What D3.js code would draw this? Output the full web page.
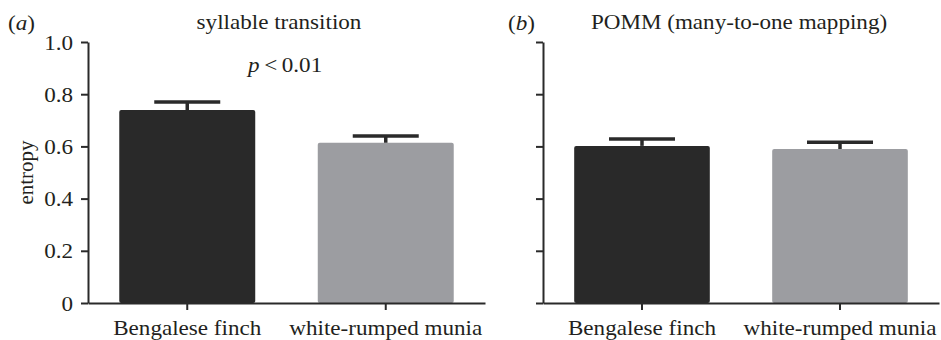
<!DOCTYPE html>
<html>
<head>
<meta charset="utf-8">
<script src="https://cdn.jsdelivr.net/npm/d3@7"></script>
<style>
  body { margin: 0; background: #fff; }
  svg text { font-family: "Liberation Serif", "Times New Roman", serif; fill: #231f20; }
</style>
</head>
<body>
<div id="chart"></div>
<script>
// dados
const categorias = ["Bengalese finch", "white-rumped munia"];
const titulos = ["syllable transition", "POMM (many-to-one mapping)"];
const letras = ["a", "b"];
const transicaoMedia = [0.739, 0.614];
const transicaoErro = [0.031, 0.026];
const pommMedia = [0.602, 0.590];
const pommErro = [0.026, 0.026];
const yTicks = [0, 0.2, 0.4, 0.6, 0.8, 1.0];
const rotuloY = "entropy";
const pValor = "0.01";

const W = 941, H = 340;
const fonte = 21, esticar = 1.1; // a figura original está um pouco esticada na horizontal
const corBarras = ["#292929", "#9c9da1"];
const corEixo = "#2a2a2a";

const svg = d3.select("#chart").append("svg")
  .attr("width", W).attr("height", H);

const y = d3.scaleLinear().domain([0, 1]).range([303, 42]);

const paineis = [
  { x0: 88, x1: 485, media: transicaoMedia, erro: transicaoErro, titulo: titulos[0], letra: letras[0], letraX: 8, tituloX: 279, labels: true },
  { x0: 543, x1: 939, media: pommMedia, erro: pommErro, titulo: titulos[1], letra: letras[1], letraX: 508, tituloX: 739, labels: false }
];

paineis.forEach((p, i) => {
  const g = svg.append("g");
  const x = d3.scaleBand().domain(categorias).range([p.x0, p.x1])
    .paddingInner(0.315).paddingOuter(0.1575);

  // barras
  g.selectAll(".bar").data(categorias).enter().append("rect")
    .attr("x", d => x(d))
    .attr("y", (d, j) => y(p.media[j]))
    .attr("width", x.bandwidth())
    .attr("height", (d, j) => y(0) - y(p.media[j]))
    .attr("rx", 2)
    .attr("fill", (d, j) => corBarras[j]);

  // barras de erro (só para cima)
  const capW = 66;
  categorias.forEach((c, j) => {
    const cx = x(c) + x.bandwidth() / 2;
    g.append("line")
      .attr("x1", cx).attr("x2", cx)
      .attr("y1", y(p.media[j])).attr("y2", y(p.media[j] + p.erro[j]))
      .attr("stroke", corEixo).attr("stroke-width", 3.5);
    g.append("line")
      .attr("x1", cx - capW / 2).attr("x2", cx + capW / 2)
      .attr("y1", y(p.media[j] + p.erro[j])).attr("y2", y(p.media[j] + p.erro[j]))
      .attr("stroke", corEixo).attr("stroke-width", 3.5);
  });

  // eixo y
  const eixoY = g.append("g")
    .attr("transform", `translate(${p.x0},0)`)
    .call(d3.axisLeft(y).tickValues(yTicks).tickSize(7).tickSizeOuter(0)
      .tickFormat(d => p.labels ? (d === 0 ? "0" : d3.format(".1f")(d)) : ""));
  eixoY.select(".domain").attr("stroke", corEixo).attr("stroke-width", 2);
  eixoY.selectAll(".tick line").attr("stroke", corEixo).attr("stroke-width", 2);
  eixoY.selectAll(".tick text")
    .attr("font-size", fonte).attr("font-family", null)
    .attr("x", -15 / esticar).attr("dy", "0.34em")
    .attr("transform", `scale(${esticar},1)`)
    .attr("fill", "#231f20");

  // eixo x
  const eixoX = g.append("g")
    .attr("transform", `translate(0,${y(0)})`)
    .call(d3.axisBottom(x).tickSize(7).tickSizeOuter(0));
  eixoX.select(".domain").attr("stroke", corEixo).attr("stroke-width", 2);
  eixoX.selectAll(".tick line").attr("stroke", corEixo).attr("stroke-width", 2);
  eixoX.selectAll(".tick text")
    .attr("font-size", fonte).attr("font-family", null)
    .attr("y", 32).attr("dy", 0)
    .attr("transform", `scale(${esticar},1)`)
    .attr("fill", "#231f20");

  // título do painel
  svg.append("text")
    .attr("transform", `translate(${p.tituloX},29) scale(${esticar},1)`)
    .attr("text-anchor", "middle")
    .attr("font-size", fonte)
    .text(p.titulo);

  // letra (a)/(b)
  const l = svg.append("text")
    .attr("transform", `translate(${p.letraX},30) scale(${esticar},1)`)
    .attr("font-size", fonte);
  l.append("tspan").text("(");
  l.append("tspan").attr("font-style", "italic").text(p.letra);
  l.append("tspan").text(")");
});

// valor p no painel (a)
const pt = svg.append("text")
  .attr("transform", `translate(248,72) scale(${esticar},1)`)
  .attr("font-size", fonte);
pt.append("tspan").attr("font-style", "italic").text("p");
pt.append("tspan").text("\u2009<\u2009" + pValor);

// rótulo do eixo y
svg.append("text")
  .attr("transform", `translate(33,${(y(0) + y(1)) / 2}) rotate(-90)`)
  .attr("text-anchor", "middle")
  .attr("font-size", fonte)
  .text(rotuloY);
</script>
</body>
</html>
